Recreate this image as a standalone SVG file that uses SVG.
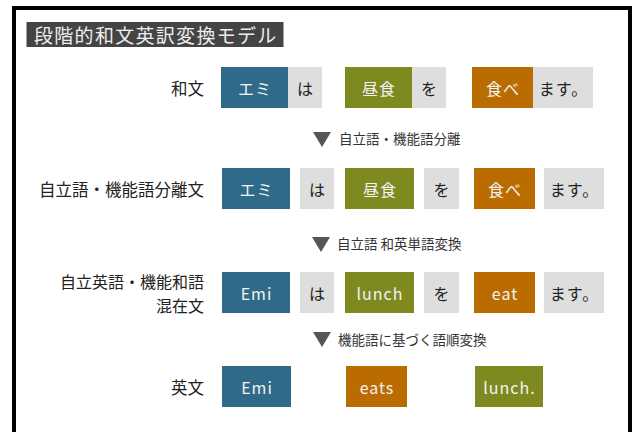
<svg xmlns="http://www.w3.org/2000/svg" width="635" height="432" viewBox="0 0 635 432">
<style>
.lbl{font-family:"Noto Sans CJK JP","Noto Sans",sans-serif;font-size:16.5px;fill:#222;text-anchor:end;dominant-baseline:central}
.bt{font-family:"Noto Sans CJK JP","Noto Sans",sans-serif;font-size:16px;letter-spacing:1px;text-anchor:middle;dominant-baseline:central}
.w{fill:#f2f2f2}
.d{fill:#222}
.blue{fill:#2F6A89}
.green{fill:#7E8A20}
.orange{fill:#BA6C00}
.gray{fill:#DEDEDE}
.at{font-family:"Noto Sans CJK JP","Noto Sans",sans-serif;font-size:13.5px;fill:#333;dominant-baseline:central}
.tri{fill:#555}
</style>
<rect x="0" y="0" width="635" height="432" fill="#fff"/>
<rect x="14" y="8" width="616" height="440" fill="#fff" stroke="#000" stroke-width="4"/>
<g id="title">
<rect x="26.5" y="22" width="257" height="25" fill="#444"/>
<text x="34" y="34.5" font-family="'Noto Sans CJK JP','Noto Sans',sans-serif" font-size="19" letter-spacing="1.3" fill="#eee" dominant-baseline="central">段階的和文英訳変換モデル</text>
</g>
<g id="row1">
<text class="lbl" x="204" y="87.5">和文</text>
<rect class="blue" x="221" y="67" width="67" height="41"/><text class="bt w" x="255" y="87.5">エミ</text>
<rect class="gray" x="288" y="67" width="34" height="41"/><text class="bt d" x="305.5" y="87.5">は</text>
<rect class="green" x="345" y="67" width="67" height="41"/><text class="bt w" x="379" y="87.5">昼食</text>
<rect class="gray" x="412" y="67" width="34" height="41"/><text class="bt d" x="429.5" y="87.5">を</text>
<rect class="orange" x="472" y="67" width="61" height="41"/><text class="bt w" x="503" y="87.5">食べ</text>
<rect class="gray" x="533" y="67" width="60" height="41"/><text class="bt d" x="563.5" y="87.5">ます。</text>
</g>
<g id="row2">
<text class="lbl" x="204" y="188.5">自立語・機能語分離文</text>
<rect class="blue" x="222" y="168" width="68" height="41"/><text class="bt w" x="256.5" y="188.5">エミ</text>
<rect class="gray" x="300" y="168" width="34" height="41"/><text class="bt d" x="317.5" y="188.5">は</text>
<rect class="green" x="345" y="168" width="69" height="41"/><text class="bt w" x="380" y="188.5">昼食</text>
<rect class="gray" x="424" y="168" width="35" height="41"/><text class="bt d" x="442" y="188.5">を</text>
<rect class="orange" x="474" y="168" width="61" height="41"/><text class="bt w" x="505" y="188.5">食べ</text>
<rect class="gray" x="544" y="168" width="60" height="41"/><text class="bt d" x="574.5" y="188.5">ます。</text>
</g>
<g id="row3">
<text class="lbl" x="204" y="280.5" style="font-size:16px">自立英語・機能和語</text>
<text class="lbl" x="204" y="304.5" style="font-size:16px">混在文</text>
<rect class="blue" x="222" y="272" width="68" height="41"/><text class="bt w" x="256.5" y="292.5">Emi</text>
<rect class="gray" x="300" y="272" width="34" height="41"/><text class="bt d" x="317.5" y="292.5">は</text>
<rect class="green" x="345" y="272" width="69" height="41"/><text class="bt w" x="380" y="292.5">lunch</text>
<rect class="gray" x="424" y="272" width="35" height="41"/><text class="bt d" x="442" y="292.5">を</text>
<rect class="orange" x="474" y="272" width="61" height="41"/><text class="bt w" x="505" y="292.5">eat</text>
<rect class="gray" x="544" y="272" width="60" height="41"/><text class="bt d" x="574.5" y="292.5">ます。</text>
</g>
<g id="row4">
<text class="lbl" x="204" y="386.5">英文</text>
<rect class="blue" x="222" y="366" width="69" height="41"/><text class="bt w" x="257" y="386.5">Emi</text>
<rect class="orange" x="346" y="366" width="61" height="41"/><text class="bt w" x="377" y="386.5">eats</text>
<rect class="green" x="475" y="366" width="68" height="41"/><text class="bt w" x="509.5" y="386.5">lunch.</text>
</g>
<g id="connectors">
<polygon class="tri" points="313,132 331,132 322,147"/>
<text class="at" x="339" y="138">自立語・機能語分離</text>
<polygon class="tri" points="312,237 330,237 321,252"/>
<text class="at" x="337" y="243">自立語 和英単語変換</text>
<polygon class="tri" points="313,332 331,332 322,347"/>
<text class="at" x="338" y="339">機能語に基づく語順変換</text>
</g>
</svg>
